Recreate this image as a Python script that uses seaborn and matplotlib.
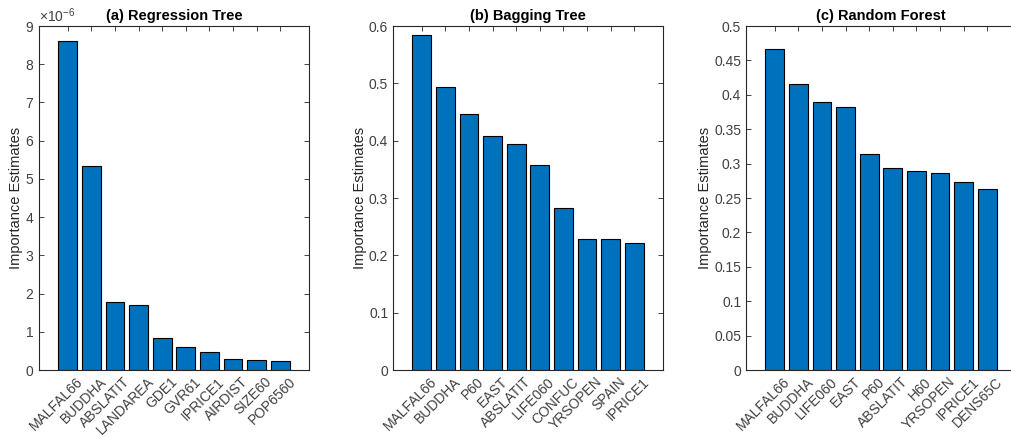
import matplotlib
matplotlib.use('Agg')
import matplotlib.pyplot as plt
import matplotlib.ticker as mticker
import matplotlib.transforms as mtransforms
import seaborn as sns
import numpy as np

# Importance estimates
tree_names = ['MALFAL66', 'BUDDHA', 'ABSLATIT', 'LANDAREA', 'GDE1', 'GVR61',
              'IPRICE1', 'AIRDIST', 'SIZE60', 'POP6560']
tree_vals = [8.62e-6, 5.35e-6, 1.79e-6, 1.70e-6, 0.83e-6, 0.59e-6,
             0.48e-6, 0.30e-6, 0.27e-6, 0.24e-6]

bag_names = ['MALFAL66', 'BUDDHA', 'P60', 'EAST', 'ABSLATIT', 'LIFE060',
             'CONFUC', 'YRSOPEN', 'SPAIN', 'IPRICE1']
bag_vals = [0.584, 0.493, 0.447, 0.409, 0.395, 0.357, 0.283, 0.229, 0.228, 0.222]

rf_names = ['MALFAL66', 'BUDDHA', 'LIFE060', 'EAST', 'P60', 'ABSLATIT',
            'H60', 'YRSOPEN', 'IPRICE1', 'DENS65C']
rf_vals = [0.466, 0.415, 0.389, 0.382, 0.314, 0.293, 0.289, 0.286, 0.273, 0.263]

titles = ['(a) Regression Tree', '(b) Bagging Tree', '(c) Random Forest']
yticks = [np.arange(0, 9.5e-6, 1e-6), np.arange(0, 0.65, 0.1), np.arange(0, 0.55, 0.05)]
ylims = [(0, 9e-6), (0, 0.6), (0, 0.5)]

sns.set_style('white')
plt.rcParams['font.family'] = ['Liberation Sans', 'DejaVu Sans']
plt.rcParams['mathtext.fontset'] = 'custom'
plt.rcParams['mathtext.rm'] = 'Liberation Sans'
plt.rcParams['mathtext.it'] = 'Liberation Sans'

W, H = 1011, 437
fig = plt.figure(figsize=(W / 100, H / 100), dpi=100)
lefts = [39, 393, 746]
ax_w = 270
top, bottom = 26, 370
dark = '#262626'

# MATLAB puts rotated labels a bit right of the tick
label_shift = mtransforms.ScaledTranslation(8 / 100, -2 / 100, fig.dpi_scale_trans)

panels = [(tree_names, tree_vals), (bag_names, bag_vals), (rf_names, rf_vals)]
for i, (names, vals) in enumerate(panels):
    ax = fig.add_axes([lefts[i] / W, 1 - bottom / H, ax_w / W, (bottom - top) / H])
    sns.barplot(x=names, y=vals, ax=ax, color='#0072BD', saturation=1,
                edgecolor='black', linewidth=0.8, width=0.8)
    ax.set_xlim(-1.22, len(names) - 1 + 1.22)
    ax.set_ylim(*ylims[i])
    ax.set_yticks(yticks[i])
    if i == 0:
        # scale shown as x10^-6 above the axis, like the original
        fmt = mticker.ScalarFormatter(useMathText=True)
        fmt.set_powerlimits((0, 0))
        ax.yaxis.set_major_formatter(fmt)
        ax.yaxis.get_offset_text().set_color('#555555')
        ax.yaxis.get_offset_text().set_fontsize(10)
    else:
        ax.yaxis.set_major_formatter(mticker.FuncFormatter(lambda v, p: f'{v:g}'))
    ax.set_title(titles[i], fontsize=10.5, fontweight='bold', pad=4, color='black')
    ax.set_ylabel('Importance Estimates', fontsize=10.5, color=dark, labelpad=1.5)
    ax.set_xlabel('')
    ax.tick_params(direction='in', length=3.5, width=0.6, colors=dark,
                   labelsize=10, top=True, right=True, bottom=True, left=True,
                   labelcolor='#404040')
    ax.tick_params(axis='x', pad=2)
    ax.set_xticks(range(len(names)))
    ax.set_xticklabels(names, rotation=45, ha='right', va='top', rotation_mode='anchor')
    for lab in ax.get_xticklabels():
        lab.set_transform(lab.get_transform() + label_shift)
    for s in ax.spines.values():
        s.set_color(dark)
        s.set_linewidth(0.8)
    if i == 2:
        # right edge of this panel falls outside the picture
        ax.spines['right'].set_visible(False)
        ax.tick_params(right=False)

fig.savefig('out.png', dpi=100)
